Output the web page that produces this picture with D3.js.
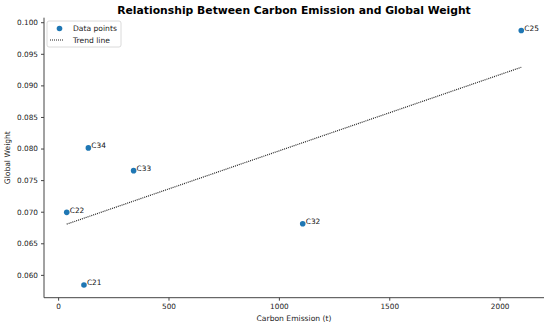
<!DOCTYPE html>
<html>
<head>
<meta charset="utf-8">
<script src="https://cdn.jsdelivr.net/npm/d3@7"></script>
<style>
  body { margin: 0; background: #fff; }
  svg { font-family: "DejaVu Sans", sans-serif; }
</style>
</head>
<body>
<div id="chart"></div>
<script>
// data
const labels = ["C21", "C22", "C34", "C33", "C32", "C25"];
const emission = [117, 39, 137, 342, 1108, 2098];
const weight = [0.0584, 0.0699, 0.0801, 0.0765, 0.0681, 0.0987];
const xTicks = [0, 500, 1000, 1500, 2000];
const yTicks = [0.060, 0.065, 0.070, 0.075, 0.080, 0.085, 0.090, 0.095, 0.100];

const w = 550, h = 326;
const margin = {top: 17.7, right: 6, bottom: 28.3, left: 44};

const points = labels.map((l, i) => ({label: l, x: emission[i], y: weight[i]}));

// matplotlib style 5% padding
function padded(vals) {
    let lo = d3.min(vals), hi = d3.max(vals), p = (hi - lo) * 0.05;
    return [lo - p, hi + p];
}

let x = d3.scaleLinear()
    .domain(padded(emission))
    .range([margin.left, w - margin.right]);
let y = d3.scaleLinear()
    .domain(padded(weight))
    .range([h - margin.bottom, margin.top]);

// least squares trend line
let mx = d3.mean(emission), my = d3.mean(weight);
let sxy = d3.sum(points, d => (d.x - mx) * (d.y - my));
let sxx = d3.sum(points, d => (d.x - mx) ** 2);
let slope = sxy / sxx, icpt = my - slope * mx;
let trend = d3.extent(emission).map(v => [v, icpt + slope * v]);

let svg = d3.select("#chart").append("svg")
    .attr("width", w)
    .attr("height", h);

// axes
let xAxis = svg.append("g")
    .attr("transform", `translate(0,${h - margin.bottom})`)
    .call(d3.axisBottom(x).tickValues(xTicks).tickFormat(d3.format("d")).tickSize(3).tickPadding(3));
let yAxis = svg.append("g")
    .attr("transform", `translate(${margin.left},0)`)
    .call(d3.axisLeft(y).tickValues(yTicks).tickFormat(d3.format(".3f")).tickSize(3).tickPadding(3));

[xAxis, yAxis].forEach(a => {
    a.attr("font-family", "DejaVu Sans").attr("font-size", 7.3);
    a.select(".domain").attr("stroke", "#444").attr("stroke-width", 1);
    a.selectAll(".tick line").attr("stroke", "#444");
    a.selectAll(".tick text").attr("fill", "#222");
});
// drop the end caps of the spines
xAxis.select(".domain").attr("d", `M${margin.left},0H${w - margin.right}`);
yAxis.select(".domain").attr("d", `M0,${h - margin.bottom}V${margin.top}`);

// trend line
svg.append("path")
    .datum(trend)
    .attr("fill", "none")
    .attr("stroke", "#222")
    .attr("stroke-width", 1.2)
    .attr("stroke-dasharray", "1,1")
    .attr("d", d3.line().x(d => x(d[0])).y(d => y(d[1])));

// points
svg.append("g")
    .selectAll("circle")
    .data(points)
    .join("circle")
    .attr("cx", d => x(d.x))
    .attr("cy", d => y(d.y))
    .attr("r", 2.8)
    .attr("fill", "#1f77b4");

svg.append("g")
    .selectAll("text")
    .data(points)
    .join("text")
    .attr("x", d => x(d.x) + 3)
    .attr("y", d => y(d.y) + 0.5)
    .attr("font-size", 7.4)
    .attr("fill", "#111")
    .text(d => d.label);

// title and axis labels
svg.append("text")
    .attr("x", (margin.left + w - margin.right) / 2)
    .attr("y", 14)
    .attr("text-anchor", "middle")
    .attr("font-size", 10.8)
    .attr("font-weight", "bold")
    .text("Relationship Between Carbon Emission and Global Weight");

svg.append("text")
    .attr("x", (margin.left + w - margin.right) / 2)
    .attr("y", 321)
    .attr("text-anchor", "middle")
    .attr("font-size", 7.6)
    .attr("fill", "#222")
    .text("Carbon Emission (t)");

svg.append("text")
    .attr("transform", `translate(10,${(margin.top + h - margin.bottom) / 2}) rotate(-90)`)
    .attr("text-anchor", "middle")
    .attr("font-size", 7.6)
    .attr("fill", "#222")
    .text("Global Weight");

// legend
let lg = svg.append("g").attr("transform", "translate(47,21)");
lg.append("rect")
    .attr("width", 74).attr("height", 26)
    .attr("rx", 2)
    .attr("fill", "#fff")
    .attr("fill-opacity", 0.8)
    .attr("stroke", "#d0d0d0")
    .attr("stroke-width", 0.8);
lg.append("circle")
    .attr("cx", 12.5).attr("cy", 7.5).attr("r", 2.8)
    .attr("fill", "#1f77b4");
lg.append("line")
    .attr("x1", 3).attr("x2", 17).attr("y1", 19).attr("y2", 19)
    .attr("stroke", "#222").attr("stroke-width", 1.2).attr("stroke-dasharray", "1,1");
lg.selectAll("text.lab")
    .data(["Data points", "Trend line"])
    .join("text")
    .attr("class", "lab")
    .attr("x", 26)
    .attr("y", (d, i) => 10 + i * 11.5)
    .attr("font-size", 7.6)
    .attr("fill", "#222")
    .text(d => d);
</script>
</body>
</html>
